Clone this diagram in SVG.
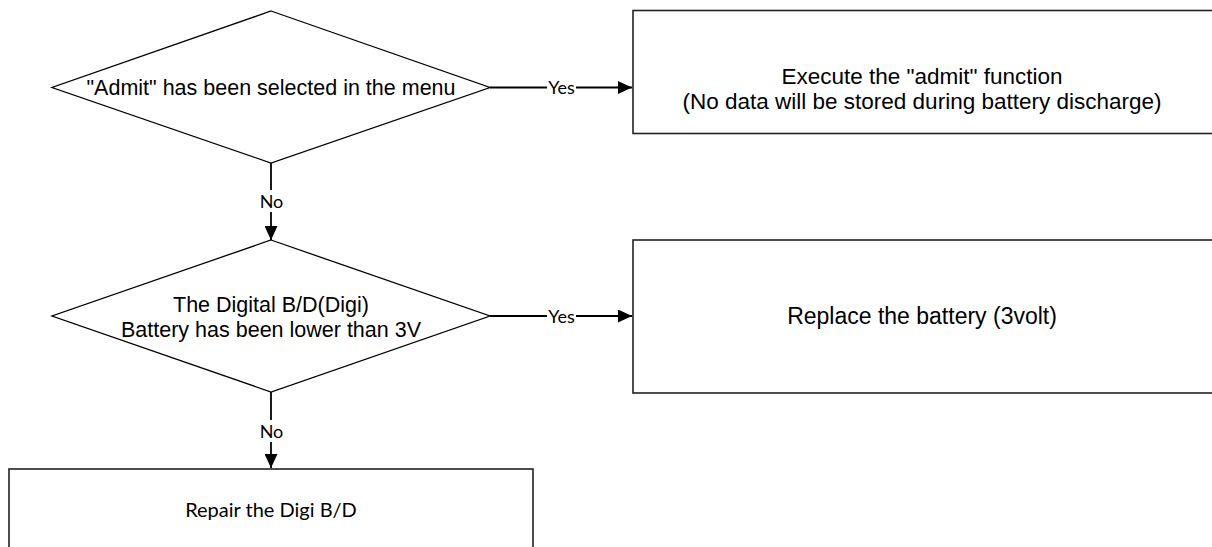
<svg xmlns="http://www.w3.org/2000/svg" width="1212" height="547" viewBox="0 0 1212 547">
<style>
.shape{fill:#fff;stroke:#000;stroke-width:1.3}
.box{fill:#fff;stroke:#222;stroke-width:1.6}
.conn{fill:none;stroke:#000;stroke-width:1.8}
.t{font-family:"Liberation Sans",Arial,sans-serif;fill:#000;text-anchor:middle}
.lbl{font-family:Lato,"Open Sans",sans-serif;font-size:18px;fill:#000;text-anchor:middle}
.bg{fill:#fff;stroke:none}
</style>
<defs>
<marker id="arr" markerUnits="userSpaceOnUse" markerWidth="15" markerHeight="13" refX="14" refY="6.5" orient="auto">
<path d="M0,0 L14,6.5 L0,13 z" fill="#000"/>
</marker>
</defs>
<g id="connectors">
<path class="conn" d="M490,87.5 H632" marker-end="url(#arr)"/>
<rect class="bg" x="547" y="76" width="29" height="22"/>
<text class="lbl" x="561.5" y="94">Yes</text>
<path class="conn" d="M490,316 H632" marker-end="url(#arr)"/>
<rect class="bg" x="547" y="305" width="29" height="22"/>
<text class="lbl" x="561.5" y="323">Yes</text>
<path class="conn" d="M271,163 V240" marker-end="url(#arr)"/>
<rect class="bg" x="259" y="190" width="25" height="22"/>
<text class="lbl" x="271.5" y="208">No</text>
<path class="conn" d="M271,392 V468" marker-end="url(#arr)"/>
<rect class="bg" x="259" y="420" width="25" height="22"/>
<text class="lbl" x="271.5" y="438">No</text>
</g>
<g id="decision1">
<polygon class="shape" points="271,11 490,87.5 271,163 52,87.5"/>
<text class="t" x="271" y="95" font-size="21.5">"Admit" has been selected in the menu</text>
</g>
<g id="decision2">
<polygon class="shape" points="271,240 490,316 271,392 52,316"/>
<text class="t" x="271" y="312" font-size="21.5">The Digital B/D(Digi)</text>
<text class="t" x="271" y="337" font-size="21.5">Battery has been lower than 3V</text>
</g>
<g id="action-admit">
<rect class="box" x="633" y="10.5" width="600" height="123"/>
<text class="t" x="922" y="84" font-size="22.5">Execute the "admit" function</text>
<text class="t" x="922" y="109" font-size="22.5">(No data will be stored during battery discharge)</text>
</g>
<g id="action-battery">
<rect class="box" x="633" y="240" width="600" height="153"/>
<text class="t" x="922" y="324" font-size="23">Replace the battery (3volt)</text>
</g>
<g id="action-repair">
<rect class="box" x="9" y="469" width="524" height="100"/>
<text class="lbl" x="271" y="517" style="font-size:20px">Repair the Digi B/D</text>
</g>
</svg>
